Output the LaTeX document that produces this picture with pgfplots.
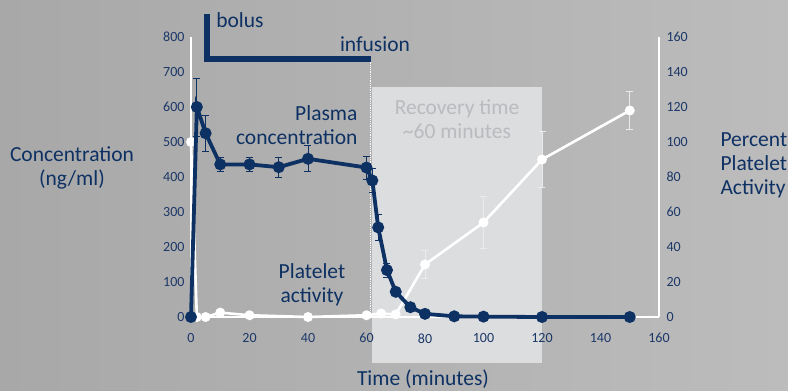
\documentclass[border=0pt]{standalone}
\usepackage{pgfplots}
\pgfplotsset{compat=1.18}
\usepackage{fontspec}
\setmainfont{Carlito}
\definecolor{navy}{RGB}{14,49,99}
\definecolor{ticknavy}{RGB}{28,56,104}
\definecolor{recov}{RGB}{220,221,223}
\definecolor{recovtext}{RGB}{186,187,190}
\definecolor{bgL}{RGB}{168,168,168}
\definecolor{bgR}{RGB}{188,188,188}
\definecolor{errw}{RGB}{235,235,235}

\pgfplotstableread{
x   y    e
0   100  0
2   0    0
5   0    0
10  2.5  0
20  1    0
40  0    0
60  1    0
65  2    0
70  1.5  0
80  30   8
100 54   15
120 90   16
150 118  11
}\plateletdata

\pgfplotstableread{
x   y    e
0   0    0
2   600  83
5   525  51
10  436  19
20  436  19
30  428  28
40  452  37
60  427  33
62  390  35
64  256  36
67  134  20
70  72   10
75  28   0
80  9    0
90  2    0
100 1    0
120 0    0
150 0    0
}\plasmadata

\pgfplotsset{base/.style={
  scale only axis, width=468pt, height=280pt,
  xmin=0, xmax=160, xtick={0,20,...,160},
  clip=false, major tick length=0pt,
  tick label style={font=\fontsize{14}{16}\selectfont, text=ticknavy},
  /pgf/number format/assume math mode=true,
}}
\pgfplotsset{noarrows/.style={
  axis line style={draw=white, line width=1.6pt},
  every inner x axis line/.append style={-},
  every outer x axis line/.append style={-},
  every inner y axis line/.append style={-},
  every outer y axis line/.append style={-},
}}

\newcommand{\lab}{\fontsize{21.5}{24}\selectfont}

\begin{document}
\begin{tikzpicture}
\shade[left color=bgL, right color=bgR] (-191pt,-74pt) rectangle (597pt,317pt);

% white series, right axis
\begin{axis}[base,
  ymin=0, ymax=160, ytick={0,20,...,160},
  axis y line=right, axis x line=bottom, noarrows,
  xticklabels={},
  yticklabel style={xshift=4pt},
]
\fill[recov] (axis cs:62,-26.3) rectangle (axis cs:120,131.4);
\draw[white, densely dotted, line width=0.8pt] (axis cs:61.5,147) -- (axis cs:61.5,0);
\addplot[white, line width=2.6pt, mark=*, mark size=3.6pt,
  error bars/.cd, y dir=both, y explicit,
  error bar style={errw, line width=0.9pt},
  error mark options={errw, line width=0.9pt, rotate=90, mark size=3.5pt}]
  table[x=x, y=y, y error=e] {\plateletdata};
\end{axis}

% blue series, left axis
\begin{axis}[base,
  ymin=0, ymax=800, ytick={0,100,...,800},
  axis y line=left, axis x line=bottom, noarrows,
  xticklabel style={yshift=-13pt},
  yticklabel style={xshift=-3pt},
]
\addplot[navy, line width=3.8pt, mark=*, mark size=4pt,
  error bars/.cd, y dir=both, y explicit,
  error bar style={navy, line width=0.9pt},
  error mark options={navy, line width=0.9pt, rotate=90, mark size=3.5pt}]
  table[x=x, y=y, y error=e] {\plasmadata};
\draw[navy, line width=6.5pt] (axis cs:5.5,866) -- (axis cs:5.5,737) -- (axis cs:61.5,737);
\end{axis}

\node[text=navy, font=\lab] at (49pt,297pt) {bolus};
\node[text=navy, font=\lab] at (184pt,273pt) {infusion};
\node[text=navy, font=\lab, align=right, anchor=east] at (170pt,192pt) {Plasma\\concentration};
\node[text=navy, font=\lab, align=center] at (121pt,32pt) {Platelet\\activity};
\node[text=recovtext, font=\lab, align=center] at (266pt,198pt) {Recovery time\\\textasciitilde60 minutes};
\node[text=navy, font=\lab, align=center] at (-119pt,149pt) {Concentration\\(ng/ml)};
\node[text=navy, font=\lab, align=left, anchor=west] at (526pt,152pt) {Percent\\Platelet\\Activity};
\node[text=navy, font=\lab] at (232pt,-62.5pt) {Time (minutes)};

\pgfresetboundingbox
\path[use as bounding box] (-191pt,-74pt) rectangle (597pt,317pt);
\end{tikzpicture}
\end{document}
